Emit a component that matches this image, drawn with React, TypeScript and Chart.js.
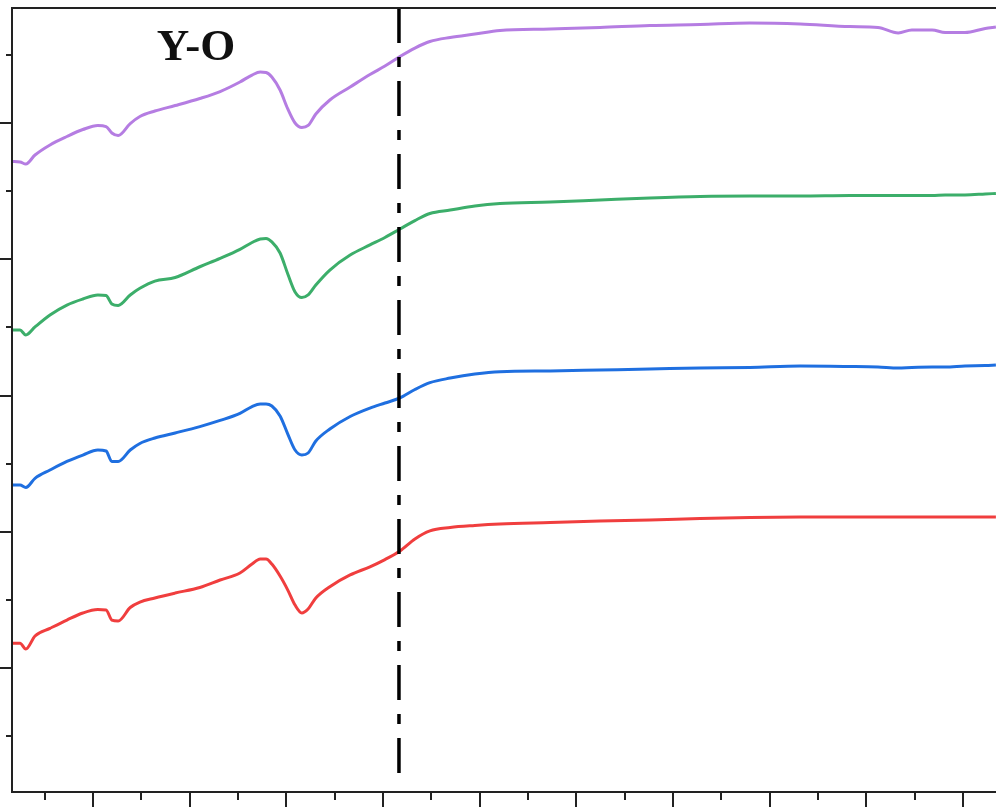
import React, { useEffect, useRef } from "react";
import { Chart, registerables } from "chart.js";

Chart.register(...registerables);

// Photon energy grid (eV) shared by all four spectra
const energy = [
  17003.2, 17004.9, 17006.1, 17008.0, 17011.1,
  17014.6, 17017.9, 17021.0, 17022.7, 17023.9,
  17025.2, 17027.7, 17029.7, 17032.8, 17037.0,
  17042.1, 17046.3, 17050.4, 17052.9, 17054.6,
  17055.8, 17057.0, 17058.7, 17060.3, 17061.8,
  17063.2, 17064.5, 17066.1, 17069.0, 17073.2,
  17077.3, 17080.4, 17083.5, 17086.6, 17089.7,
  17093.9, 17099.0, 17104.2, 17114.6, 17124.9,
  17135.2, 17145.6, 17155.9, 17166.3, 17176.6,
  17182.4, 17186.6, 17189.4, 17193.6, 17196.3,
  17200.4, 17204.6, 17206.8,
];

// Offset-stacked absorbance traces, top to bottom
const tracePurple = [
  3.717, 3.714, 3.699, 3.765, 3.839,
  3.901, 3.952, 3.982, 3.974, 3.927,
  3.908, 3.996, 4.048, 4.088, 4.128,
  4.180, 4.231, 4.301, 4.352, 4.374,
  4.371, 4.338, 4.242, 4.103, 4.000,
  3.967, 3.982, 4.066, 4.169, 4.264,
  4.356, 4.418, 4.488, 4.550, 4.598,
  4.628, 4.653, 4.679, 4.690, 4.701,
  4.716, 4.723, 4.734, 4.727, 4.708,
  4.701, 4.661, 4.683, 4.683, 4.664,
  4.664, 4.694, 4.705,
];

const traceGreen = [
  2.481, 2.481, 2.444, 2.503, 2.591,
  2.664, 2.708, 2.738, 2.734, 2.672,
  2.661, 2.738, 2.787, 2.840, 2.866,
  2.945, 3.006, 3.072, 3.123, 3.149,
  3.152, 3.127, 3.046, 2.892, 2.760,
  2.719, 2.738, 2.811, 2.921, 3.031,
  3.105, 3.160, 3.222, 3.284, 3.336,
  3.361, 3.391, 3.409, 3.420, 3.435,
  3.450, 3.461, 3.464, 3.464, 3.468,
  3.468, 3.468, 3.468, 3.468, 3.472,
  3.472, 3.479, 3.483,
];

const traceBlue = [
  1.343, 1.343, 1.325, 1.392, 1.453,
  1.516, 1.563, 1.600, 1.593, 1.516,
  1.516, 1.600, 1.648, 1.688, 1.725,
  1.772, 1.817, 1.869, 1.919, 1.938,
  1.938, 1.923, 1.850, 1.717, 1.600,
  1.563, 1.578, 1.666, 1.754, 1.846,
  1.908, 1.945, 1.982, 2.044, 2.094,
  2.128, 2.158, 2.175, 2.180, 2.187,
  2.194, 2.202, 2.206, 2.217, 2.213,
  2.209, 2.202, 2.206, 2.209, 2.209,
  2.217, 2.220, 2.224,
];

const traceRed = [
  0.181, 0.181, 0.139, 0.235, 0.291,
  0.352, 0.404, 0.429, 0.426, 0.352,
  0.345, 0.444, 0.484, 0.514, 0.550,
  0.591, 0.646, 0.697, 0.763, 0.800,
  0.800, 0.763, 0.675, 0.572, 0.462,
  0.404, 0.433, 0.514, 0.597, 0.683,
  0.743, 0.796, 0.859, 0.947, 1.006,
  1.031, 1.046, 1.057, 1.068, 1.079,
  1.086, 1.097, 1.105, 1.108, 1.108,
  1.108, 1.108, 1.108, 1.108, 1.108,
  1.108, 1.108, 1.108,
];

// Axis extents and tick spacing
const xRange = [17003.24, 17206.82];
const yRange = [-0.91, 4.844];
const xMajorTicks = [17020, 17040, 17060, 17080, 17100, 17120, 17140, 17160, 17180, 17200];
const xMinorTicks = [17010, 17030, 17050, 17070, 17090, 17110, 17130, 17150, 17170, 17190];
const yMajorTicks = [0, 1, 2, 3, 4];
const yMinorTicks = [-0.5, 0.5, 1.5, 2.5, 3.5, 4.5];

// Edge marker (dash-dot line) and panel label
const edgeEnergy = 17083.3;
const edgeSpan = [4.844, -0.793];
const panelLabel = "Y-O";
const panelLabelAt = { x: 17041.3, y: 4.462 };

const AXIS_COLOR = "#222";

// Dash-dot edge marker, drawn top-down so the pattern starts with a dash
const edgePlugin = {
  id: "edgeMarker",
  afterDatasetsDraw(chart: any) {
    const { ctx, scales } = chart;
    const px = scales.x.getPixelForValue(edgeEnergy);
    const yTop = scales.y.getPixelForValue(edgeSpan[0]);
    const yBottom = scales.y.getPixelForValue(edgeSpan[1]);
    ctx.save();
    ctx.strokeStyle = "#000";
    ctx.lineWidth = 3.5;
    ctx.setLineDash([35, 14, 10, 14]);
    ctx.lineDashOffset = 0;
    ctx.beginPath();
    ctx.moveTo(px, yTop);
    ctx.lineTo(px, yBottom);
    ctx.stroke();
    ctx.restore();
  },
};

const framePlugin = {
  id: "frameAndTicks",
  afterDatasetsDraw(chart: any) {
    const { ctx, chartArea: a, scales } = chart;
    const xs = scales.x;
    const ys = scales.y;
    ctx.save();
    ctx.strokeStyle = AXIS_COLOR;
    ctx.lineWidth = 2;
    ctx.lineCap = "butt";

    // frame: top, left, bottom
    ctx.beginPath();
    ctx.moveTo(a.right + 2, a.top);
    ctx.lineTo(a.left, a.top);
    ctx.lineTo(a.left, a.bottom);
    ctx.lineTo(a.right + 2, a.bottom);
    ctx.stroke();

    // bottom ticks, outward
    ctx.beginPath();
    for (const v of xMajorTicks) {
      const px = Math.round(xs.getPixelForValue(v));
      ctx.moveTo(px, a.bottom);
      ctx.lineTo(px, a.bottom + 16);
    }
    for (const v of xMinorTicks) {
      const px = Math.round(xs.getPixelForValue(v));
      ctx.moveTo(px, a.bottom);
      ctx.lineTo(px, a.bottom + 8);
    }
    // left ticks, outward
    for (const v of yMajorTicks) {
      const py = Math.round(ys.getPixelForValue(v));
      ctx.moveTo(a.left, py);
      ctx.lineTo(a.left - 12, py);
    }
    for (const v of yMinorTicks) {
      const py = Math.round(ys.getPixelForValue(v));
      ctx.moveTo(a.left, py);
      ctx.lineTo(a.left - 6, py);
    }
    ctx.stroke();

    // panel label
    ctx.fillStyle = "#111";
    ctx.font = 'bold 45px "Liberation Serif", "DejaVu Serif", serif';
    ctx.textAlign = "center";
    ctx.textBaseline = "alphabetic";
    ctx.fillText(panelLabel, xs.getPixelForValue(panelLabelAt.x), ys.getPixelForValue(panelLabelAt.y));
    ctx.restore();
  },
};

function toPoints(values: number[]) {
  return values.map((y, i) => ({ x: energy[i], y }));
}

export default function App() {
  const canvasRef = useRef<HTMLCanvasElement | null>(null);

  useEffect(() => {
    const canvas = canvasRef.current;
    if (!canvas) return;
    const traceStyle = {
      borderWidth: 3,
      pointRadius: 0,
      fill: false,
      cubicInterpolationMode: "monotone" as const,
    };
    const chart = new Chart(canvas, {
      type: "line",
      data: {
        datasets: [
          { label: "purple", data: toPoints(tracePurple), borderColor: "#b57de2", order: 1, ...traceStyle },
          { label: "green", data: toPoints(traceGreen), borderColor: "#3cae6a", order: 2, ...traceStyle },
          { label: "blue", data: toPoints(traceBlue), borderColor: "#1f6fe0", order: 3, ...traceStyle },
          { label: "red", data: toPoints(traceRed), borderColor: "#f03e3e", order: 4, ...traceStyle },
        ],
      },
      options: {
        responsive: false,
        animation: false,
        devicePixelRatio: 1,
        layout: { padding: { left: 12, top: 8, right: 0, bottom: 15 } },
        plugins: {
          legend: { display: false },
          tooltip: { enabled: false },
          title: { display: false },
        },
        scales: {
          x: { type: "linear", min: xRange[0], max: xRange[1], display: false },
          y: { type: "linear", min: yRange[0], max: yRange[1], display: false },
        },
      },
      plugins: [edgePlugin, framePlugin],
    });
    return () => chart.destroy();
  }, []);

  return (
    <div style={{ position: "absolute", left: 0, top: 0, width: 996, height: 807, overflow: "hidden", background: "#fff" }}>
      <canvas ref={canvasRef} width={996} height={807} style={{ display: "block" }} />
    </div>
  );
}
